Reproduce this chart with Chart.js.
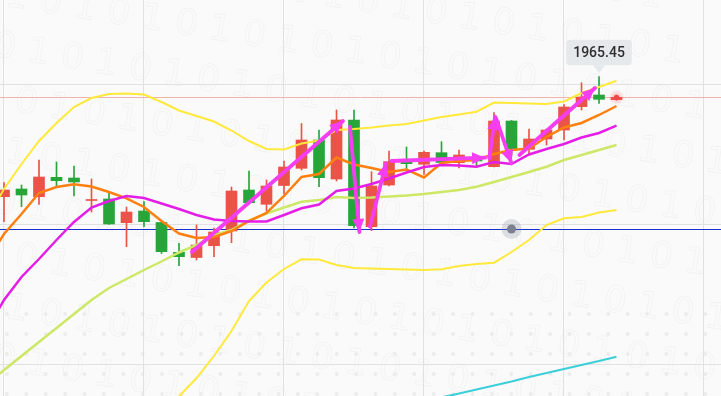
<!DOCTYPE html>
<html>
<head>
<meta charset="utf-8">
<script src="https://cdn.jsdelivr.net/npm/chart.js@4.4.1/dist/chart.umd.min.js"></script>
<style>
html,body{margin:0;padding:0;background:#fafafa;overflow:hidden;}
#wrap{width:721px;height:396px;position:relative;}
</style>
</head>
<body>
<div id="wrap"><canvas id="c"></canvas></div>
<script>
// ---- candle data (index 0..35) ----
const candleIdx = Array.from({length: 36}, (_, k) => k);
const opens  = [1941.45,1942.99,1941.45,1945.33,1945.19,1940.69,1940.99,1936.25,1938.59,1936.29,1930.33,1929.29,1931.65,1934.59,1942.79,1939.93,1943.69,1947.13,1952.79,1944.99,1956.79,1935.45,1943.79,1948.39,1947.93,1950.25,1948.25,1949.13,1947.45,1956.59,1950.93,1952.99,1954.79,1959.45,1961.79,1960.85];
const highs  = [1944.25,1943.79,1948.79,1948.39,1947.59,1944.99,1942.25,1939.39,1940.45,1936.39,1932.13,1935.79,1935.19,1943.39,1946.59,1944.79,1948.59,1956.09,1954.79,1958.79,1958.79,1946.45,1950.59,1951.39,1950.59,1952.45,1950.79,1949.29,1958.25,1956.69,1954.99,1954.99,1959.89,1964.25,1965.45,1961.43];
const lows   = [1936.45,1939.45,1939.93,1943.39,1941.59,1938.39,1935.89,1931.45,1935.45,1930.09,1927.65,1928.79,1929.45,1932.25,1940.19,1938.59,1941.99,1946.79,1943.45,1944.59,1935.19,1934.65,1943.59,1946.89,1945.93,1948.19,1947.19,1947.59,1947.39,1949.79,1949.79,1951.79,1952.79,1958.79,1960.13,1960.75];
const closes = [1942.79,1941.79,1945.39,1944.65,1944.39,1940.79,1935.99,1938.39,1936.45,1930.45,1929.45,1931.79,1934.39,1942.59,1940.25,1943.59,1947.39,1952.79,1945.25,1956.79,1935.65,1943.59,1948.45,1948.05,1950.33,1948.29,1949.79,1948.59,1956.59,1950.99,1952.99,1954.79,1959.39,1961.39,1960.93,1961.33];

// ---- indicator lines (index -1..35) ----
const lineIdx = Array.from({length: 37}, (_, k) => k - 1);
const bollUpper = [1936.79,1942.99,1947.99,1952.59,1956.19,1959.39,1961.19,1961.99,1962.09,1961.89,1960.39,1958.69,1957.59,1956.49,1954.69,1952.59,1950.99,1950.89,1952.09,1952.69,1954.79,1954.99,1955.29,1955.69,1955.99,1956.69,1957.39,1957.89,1958.45,1960.29,1960.19,1960.09,1959.99,1960.49,1962.19,1963.39,1964.65];
const bollMid   = [1903.79,1906.79,1909.59,1912.39,1915.19,1917.99,1920.79,1923.19,1924.99,1926.79,1928.49,1930.29,1931.79,1933.79,1934.79,1936.69,1938.09,1939.29,1940.45,1940.79,1941.39,1941.19,1941.29,1941.49,1941.69,1941.99,1942.39,1942.79,1943.45,1944.39,1945.39,1946.39,1947.45,1948.79,1949.79,1950.79,1951.79];
const bollLower = [1870.79,1870.59,1871.19,1872.19,1874.19,1876.59,1880.39,1884.39,1887.89,1891.69,1896.59,1901.49,1905.19,1909.59,1914.59,1920.59,1924.29,1926.99,1928.93,1928.89,1927.79,1927.19,1927.09,1926.99,1926.89,1926.79,1926.93,1927.59,1927.99,1928.25,1930.39,1932.79,1935.79,1937.13,1937.39,1938.29,1938.79];
const maOrange  = [1928.39,1933.99,1937.99,1942.19,1943.39,1943.93,1943.49,1942.39,1941.13,1939.39,1936.59,1934.09,1933.19,1933.39,1934.59,1936.59,1938.19,1941.59,1945.39,1945.99,1949.29,1947.89,1947.19,1946.39,1946.89,1945.29,1948.19,1948.59,1948.79,1949.99,1950.79,1951.09,1953.39,1955.29,1956.19,1957.79,1959.59];
const maMagenta = [1914.79,1920.79,1925.39,1928.99,1932.79,1936.39,1939.29,1940.59,1941.59,1941.19,1940.09,1938.99,1937.79,1936.89,1936.59,1936.49,1936.49,1937.79,1939.13,1939.89,1942.59,1943.09,1943.99,1945.09,1946.29,1947.39,1947.79,1947.69,1947.45,1948.39,1947.99,1949.89,1950.99,1951.99,1953.29,1954.19,1955.65];
// long MA, only the part near the bottom right (index 24..35)
const cyanIdx = [24,25,26,27,28,29,30,31,32,33,34,35];
const maCyan  = [1900.4,1901.3,1902.1,1902.9,1903.7,1904.5,1905.4,1906.2,1907.0,1907.8,1908.6,1909.45];

// ---- hand-drawn arrows (index, price) ----
const arrowFrom = [[10.74,1930.39],[19.77,1955.39],[20.91,1935.45],[22.15,1948.59],[27.73,1949.12],[28.11,1957.19],[29.45,1949.79]];
const arrowTo   = [[19.37,1956.59],[20.31,1934.39],[21.83,1948.12],[27.49,1949.25],[28.06,1957.45],[29.00,1948.12],[33.77,1963.19]];

// ---- axes / guides ----
const xMin = -0.2286, xMax = 40.97;
const yMin = 1901.59, yMax = 1980.79;
const xGridIdx = [0, 8, 16, 24, 32, 40];
const yGridPrices = [1963.99, 1935.99, 1907.99];
const crossIdx = 29, crossPrice = 1934.99;

const UP = '#ea5348', DOWN = '#26a639';
const candleColors = closes.map((c, i) => c >= opens[i] ? UP : DOWN);

function xy(xs, ys){ return ys.map((v, k) => ({x: xs[k], y: v})); }

const lineDs = (label, data, color, width, order) => ({
  type: 'line', label, data, borderColor: color, borderWidth: width,
  pointRadius: 0, tension: 0, fill: false, order
});

const datasets = [
  lineDs('BOLL UP', xy(lineIdx, bollUpper), '#ffe93b', 2, 3),
  lineDs('BOLL DN', xy(lineIdx, bollLower), '#ffe93b', 2, 3),
  lineDs('BOLL MID', xy(lineIdx, bollMid), '#cde866', 2.5, 3),
  lineDs('MA cyan', xy(cyanIdx, maCyan), '#3ccfd9', 2.2, 3),
  lineDs('MA magenta', xy(lineIdx, maMagenta), '#e41ee6', 2.5, 2),
  lineDs('MA orange', xy(lineIdx, maOrange), '#ff7f10', 2.5, 2),
  {
    type: 'bar', label: 'wick',
    data: candleIdx.map(i => ({x: i, y: [lows[i], highs[i]]})),
    backgroundColor: candleColors, borderWidth: 0, barThickness: 1,
    grouped: false, order: 6
  },
  {
    type: 'bar', label: 'body',
    data: candleIdx.map(i => ({x: i, y: [opens[i], closes[i]]})),
    backgroundColor: candleColors, borderWidth: 0, barThickness: 11,
    minBarLength: 1, grouped: false, order: 5
  }
];
arrowFrom.forEach((p, k) => {
  datasets.push({
    type: 'line', label: 'arrow' + k,
    data: [{x: p[0], y: p[1]}, {x: arrowTo[k][0], y: arrowTo[k][1]}],
    borderColor: '#f53ef2', borderWidth: 3.8, pointRadius: 0, tension: 0, order: 0,
    borderCapStyle: 'round'
  });
});

const deco = {
  id: 'deco',
  beforeDraw(chart){
    const ctx = chart.ctx, w = chart.width, h = chart.height;
    ctx.save();
    ctx.fillStyle = '#fafafa';
    ctx.fillRect(0, 0, w, h);
    // faint binary watermark
    ctx.font = '36px "DejaVu Sans"';
    ctx.strokeStyle = 'rgba(0,0,0,0.03)';
    ctx.lineWidth = 1;
    for (let r = -3; r < 10; r++) {
      ctx.save();
      ctx.translate(-30, r * 52);
      ctx.rotate(0.16);
      ctx.strokeText('0 1 0 1 0 1 0 1 0 1 0 1 0 1 0 1 0 1 0 1 0 1', (r % 3) * 22, 0);
      ctx.restore();
    }
    // dot pattern in the lower band
    ctx.fillStyle = '#ececec';
    for (let yy = 314; yy <= 396; yy += 20) {
      for (let xx = 705.3; xx > 0; xx -= 19.4) {
        ctx.beginPath(); ctx.arc(xx, yy, 2, 0, Math.PI * 2); ctx.fill();
      }
    }
    ctx.restore();
  },
  beforeDatasetsDraw(chart){
    const ctx = chart.ctx, xs = chart.scales.x, ys = chart.scales.y, a = chart.chartArea;
    ctx.save();
    ctx.lineWidth = 1;
    ctx.strokeStyle = '#e1e1e4';
    xGridIdx.forEach(v => {
      const px = Math.round(xs.getPixelForValue(v)) - 0.5;
      ctx.beginPath(); ctx.moveTo(px, a.top); ctx.lineTo(px, a.bottom); ctx.stroke();
    });
    yGridPrices.forEach(v => {
      const py = Math.round(ys.getPixelForValue(v)) + 0.5;
      ctx.beginPath(); ctx.moveTo(a.left, py); ctx.lineTo(a.right, py); ctx.stroke();
    });
    // last price line
    const lp = Math.round(ys.getPixelForValue(closes[closes.length - 1])) + 0.5;
    ctx.strokeStyle = '#f0b4ac';
    ctx.beginPath(); ctx.moveTo(a.left, lp); ctx.lineTo(a.right, lp); ctx.stroke();
    // crosshair line
    const cp = Math.round(ys.getPixelForValue(crossPrice)) + 0.5;
    ctx.strokeStyle = '#1a30cc';
    ctx.beginPath(); ctx.moveTo(a.left, cp); ctx.lineTo(a.right, cp); ctx.stroke();
    ctx.restore();
  },
  afterDatasetsDraw(chart){
    const ctx = chart.ctx, xs = chart.scales.x, ys = chart.scales.y;
    ctx.save();
    // arrowheads
    ctx.fillStyle = '#f53ef2';
    arrowFrom.forEach((p, k) => {
      const x0 = xs.getPixelForValue(p[0]), y0 = ys.getPixelForValue(p[1]);
      const x1 = xs.getPixelForValue(arrowTo[k][0]), y1 = ys.getPixelForValue(arrowTo[k][1]);
      const ang = Math.atan2(y1 - y0, x1 - x0);
      const L = 13, W = 6;
      ctx.beginPath();
      ctx.moveTo(x1, y1);
      ctx.lineTo(x1 - L * Math.cos(ang) + W * Math.sin(ang), y1 - L * Math.sin(ang) - W * Math.cos(ang));
      ctx.lineTo(x1 - L * Math.cos(ang) - W * Math.sin(ang), y1 - L * Math.sin(ang) + W * Math.cos(ang));
      ctx.closePath(); ctx.fill();
    });
    // crosshair dot
    const cx = xs.getPixelForValue(crossIdx), cy = ys.getPixelForValue(crossPrice);
    ctx.fillStyle = 'rgba(120,124,140,0.22)';
    ctx.beginPath(); ctx.arc(cx, cy, 10, 0, Math.PI * 2); ctx.fill();
    ctx.fillStyle = '#7c8090';
    ctx.beginPath(); ctx.arc(cx, cy, 4.5, 0, Math.PI * 2); ctx.fill();
    // last price dot
    const li = closes.length - 1;
    const lx = xs.getPixelForValue(li), ly = ys.getPixelForValue(closes[li]);
    const g = ctx.createRadialGradient(lx, ly, 0, lx, ly, 8);
    g.addColorStop(0, 'rgba(255,70,70,0.4)'); g.addColorStop(1, 'rgba(255,70,70,0)');
    ctx.fillStyle = g;
    ctx.beginPath(); ctx.arc(lx, ly, 8, 0, Math.PI * 2); ctx.fill();
    ctx.fillStyle = '#f04848';
    ctx.beginPath(); ctx.arc(lx, ly, 2.6, 0, Math.PI * 2); ctx.fill();
    // max high label
    let mi = 0;
    highs.forEach((v, i) => { if (v > highs[mi]) mi = i; });
    const hx = xs.getPixelForValue(mi), hy = ys.getPixelForValue(highs[mi]);
    const txt = highs[mi].toFixed(2);
    ctx.font = '500 14px Roboto';
    const tw = ctx.measureText(txt).width;
    const bw = tw + 14, bh = 25.5;
    const tipY = hy - 3.4, by = tipY - 8 - bh, bx = hx - bw / 2;
    ctx.fillStyle = '#e6e9ec';
    ctx.beginPath();
    if (ctx.roundRect) ctx.roundRect(bx, by, bw, bh, 4); else ctx.rect(bx, by, bw, bh);
    ctx.fill();
    ctx.beginPath();
    ctx.moveTo(hx - 6, by + bh); ctx.lineTo(hx + 6, by + bh); ctx.lineTo(hx, tipY); ctx.closePath(); ctx.fill();
    ctx.fillStyle = '#2e2e2e';
    ctx.textAlign = 'center'; ctx.textBaseline = 'middle';
    ctx.fillText(txt, hx, by + bh / 2 + 0.5);
    ctx.restore();
  }
};

new Chart(document.getElementById('c'), {
  type: 'bar',
  data: { datasets },
  options: {
    responsive: true, maintainAspectRatio: false, animation: false,
    layout: { padding: 0 },
    plugins: { legend: { display: false }, tooltip: { enabled: false } },
    events: [],
    scales: {
      x: { type: 'linear', min: xMin, max: xMax, offset: false, display: false },
      y: { type: 'linear', min: yMin, max: yMax, display: false }
    }
  },
  plugins: [deco]
});
</script>
</body>
</html>
